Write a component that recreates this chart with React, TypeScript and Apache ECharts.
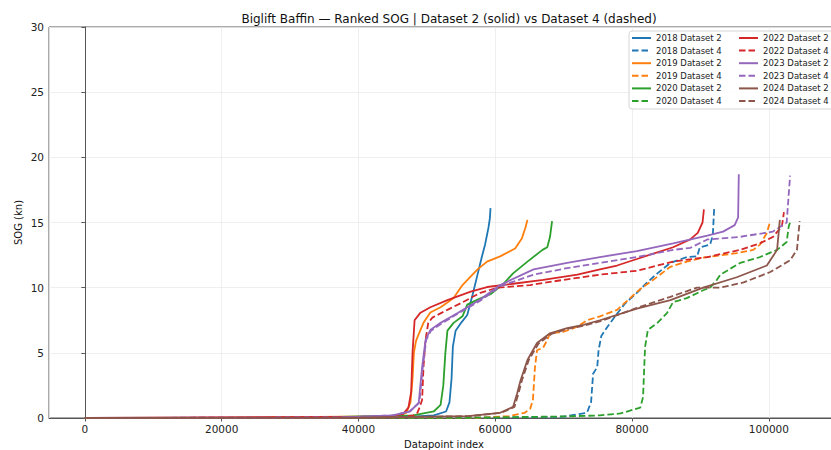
import React, { useEffect, useRef } from "react";
import * as echarts from "echarts";

// Ranked SOG curves: [datapoint index, SOG (kn)]
const d2018_ds2: [number, number][] = [
  [0, 0], [46000, 0.05], [51000, 0.2], [52800, 0.5], [53300, 1.2], [53600, 3], [53800, 5.5],
  [54200, 6.7], [55000, 7.3], [55900, 7.9], [56700, 9.5], [57400, 11], [58000, 12.3],
  [58500, 13.3], [59000, 14.6], [59200, 15.3], [59300, 16.1],
];
const d2018_ds4: [number, number][] = [
  [0, 0], [57000, 0.02], [70000, 0.1], [73400, 0.4], [74000, 1.2], [74300, 3.4], [74900, 3.9],
  [75100, 5.2], [75500, 6.3], [76400, 7.0], [77800, 8.0], [79000, 8.8], [80700, 9.6],
  [82200, 10.4], [83700, 11.1], [85600, 11.9], [88000, 12.35], [89500, 12.4], [89900, 13.1],
  [91400, 13.3], [91800, 14.0], [92000, 16.1],
];
const d2019_ds2: [number, number][] = [
  [0, 0], [26500, 0], [27000, 0.05], [45000, 0.15], [47000, 0.4], [47600, 1.2], [47900, 3],
  [48100, 5], [48400, 5.9], [48700, 6.3], [49500, 7.3], [50500, 8.1], [52000, 8.5],
  [53100, 8.9], [53900, 9.2], [55200, 10.2], [57400, 11.4], [58800, 12], [60700, 12.4],
  [62900, 13.0], [63900, 13.8], [64400, 14.6], [64700, 15.2],
];
const d2019_ds4: [number, number][] = [
  [0, 0], [58000, 0.02], [62000, 0.15], [64300, 0.4], [65100, 0.7], [65500, 1.4], [65800, 3.9],
  [66100, 5.2], [67000, 5.4], [67600, 6.0], [68000, 6.5], [69900, 6.6], [72000, 7.0],
  [73400, 7.5], [75300, 7.8], [77800, 8.3], [79300, 9.0], [81200, 9.9], [83100, 10.6],
  [85600, 11.6], [88000, 12.0], [90400, 12.3], [95300, 12.65], [97700, 12.9], [98700, 13.3],
  [99700, 14.2], [100200, 15.1],
];
const d2020_ds2: [number, number][] = [
  [0, 0], [33000, 0], [33500, 0.05], [48000, 0.2], [51000, 0.5], [52000, 1], [52400, 2.5],
  [52700, 5], [53000, 6.7], [53900, 7.3], [55200, 7.8], [55900, 8.7], [57500, 9.1],
  [59300, 9.5], [61200, 10.3], [62600, 11.1], [64700, 12.0], [66900, 12.9], [67600, 13.1],
  [68000, 13.9], [68300, 15.1],
];
const d2020_ds4: [number, number][] = [
  [0, 0], [56000, 0.02], [70000, 0.12], [75300, 0.2], [78300, 0.35], [81200, 0.8],
  [81600, 1.6], [81800, 4.2], [81900, 5.45], [82300, 6.75], [83700, 7.3], [85100, 8.05],
  [86000, 8.9], [88000, 9.2], [90400, 9.8], [91400, 10.0], [92400, 10.6], [92900, 11.0],
  [95800, 11.9], [98700, 12.35], [101200, 12.9], [102600, 13.5], [102900, 14.7], [103100, 15.0],
];
const d2022_ds2: [number, number][] = [
  [0, 0], [44000, 0.1], [46500, 0.3], [47300, 0.8], [47700, 2], [47900, 5], [48200, 7.5],
  [49000, 8.05], [50500, 8.5], [53000, 9.05], [56400, 9.7], [58800, 10.05], [62600, 10.3],
  [67000, 10.6], [72000, 11.0], [75300, 11.4], [77800, 11.7], [80700, 12.2], [83000, 12.6],
  [86000, 13.1], [88500, 13.7], [89600, 14.2], [90300, 15.0], [90500, 16.0],
];
const d2022_ds4: [number, number][] = [
  [0, 0], [46000, 0.05], [48000, 0.2], [48600, 0.4], [49000, 0.9], [49300, 1.4], [49500, 3.9],
  [49800, 6.0], [50200, 7.3], [50800, 7.7], [53000, 8.3], [55300, 8.9], [57800, 9.6],
  [60300, 10.0], [65100, 10.2], [70000, 10.6], [75300, 11.0], [80700, 11.3], [86000, 12.0],
  [91000, 12.35], [95800, 12.9], [98700, 13.4], [100600, 13.9], [101900, 14.7], [102200, 15.8],
];
const d2023_ds2: [number, number][] = [
  [0, 0], [37000, 0], [37500, 0.05], [45000, 0.2], [47500, 0.5], [48800, 1.15], [49300, 3.9],
  [49800, 6.0], [50500, 6.75], [52000, 7.3], [54500, 8.05], [57800, 9.1], [60700, 10.2],
  [65600, 11.4], [70500, 11.9], [75300, 12.35], [80700, 12.8], [86000, 13.4], [91000, 14.0],
  [93300, 14.3], [95000, 14.8], [95500, 15.4], [95600, 18.7],
];
const d2023_ds4: [number, number][] = [
  [0, 0], [38000, 0.05], [45000, 0.2], [47500, 0.5], [48900, 1.2], [49400, 3.9], [49900, 6.0],
  [50600, 6.7], [52000, 7.2], [54500, 8.0], [57800, 9.0], [60700, 10.1], [65600, 11.0],
  [70500, 11.5], [75300, 11.9], [80700, 12.35], [86000, 12.9], [88500, 13.05], [91000, 13.7],
  [95800, 13.9], [100600, 14.3], [102600, 15.0], [103100, 18.6],
];
const d2024_ds2: [number, number][] = [
  [0, 0], [40000, 0.02], [56000, 0.15], [60700, 0.4], [62600, 0.85], [63200, 1.9], [63700, 2.9],
  [64700, 4.45], [66100, 5.75], [68000, 6.5], [70500, 6.9], [72900, 7.15], [75300, 7.5],
  [80700, 8.4], [85600, 9.05], [90400, 10.0], [95300, 10.8], [99700, 11.7], [101200, 12.9],
  [101600, 15.2],
];
const d2024_ds4: [number, number][] = [
  [0, 0], [40000, 0.02], [56500, 0.15], [60900, 0.4], [62800, 0.85], [63400, 1.9], [63900, 2.9],
  [64900, 4.45], [66300, 5.7], [68200, 6.45], [70700, 6.85], [73100, 7.1], [75500, 7.45],
  [80700, 8.45], [85600, 9.3], [89500, 10.0], [92900, 10.0], [96300, 10.4], [100200, 11.2],
  [103100, 12.1], [104100, 12.9], [104500, 15.1],
];

const years = ["2018", "2019", "2020", "2022", "2023", "2024"];
const ds2Data = [d2018_ds2, d2019_ds2, d2020_ds2, d2022_ds2, d2023_ds2, d2024_ds2];
const ds4Data = [d2018_ds4, d2019_ds4, d2020_ds4, d2022_ds4, d2023_ds4, d2024_ds4];
const palette = ["#1f77b4", "#ff7f0e", "#2ca02c", "#d62728", "#9467bd", "#8c564b"];

const titleText = "Biglift Baffin — Ranked SOG | Dataset 2 (solid) vs Dataset 4 (dashed)";
const FONT = "DejaVu Sans";

export default function App() {
  const ref = useRef<HTMLDivElement>(null);
  useEffect(() => {
    if (!ref.current) return;
    const chart = echarts.init(ref.current, undefined, { renderer: "svg" });
    const series: any[] = [];
    const names: string[] = [];
    years.forEach((y, i) => {
      const n2 = `${y} Dataset 2`;
      const n4 = `${y} Dataset 4`;
      names.push(n2, n4);
      series.push({
        name: n2, type: "line", data: ds2Data[i], showSymbol: false, symbol: "none",
        color: palette[i], lineStyle: { color: palette[i], width: 1.8, type: "solid" }, z: 2,
      });
      series.push({
        name: n4, type: "line", data: ds4Data[i], showSymbol: false, symbol: "none",
        color: palette[i], lineStyle: { color: palette[i], width: 1.8, type: [6.5, 3] }, z: 2,
      });
    });
    const legendCommon = {
      orient: "vertical", top: 33.5, itemWidth: 19, itemHeight: 9, itemGap: 3.6, padding: 0,
      textStyle: { fontSize: 8.5, fontFamily: FONT, color: "#222" }, itemStyle: { opacity: 0 },
      z: 6,
    };
    chart.setOption({
      animation: false,
      backgroundColor: "#fff",
      title: {
        text: titleText, left: 444, top: 8, textAlign: "center",
        textStyle: { fontSize: 12, fontWeight: "normal", fontFamily: FONT, color: "#111" },
      },
      legend: [
        { ...legendCommon, left: 631, data: names.slice(0, 6) },
        { ...legendCommon, left: 738, data: names.slice(6) },
      ],
      graphic: [
        {
          type: "rect", z: 5, shape: { x: 629, y: 31, width: 210, height: 78, r: 3 },
          style: { fill: "rgba(255,255,255,0.85)", stroke: "#d6d6d6", lineWidth: 1 },
        },
      ],
      grid: {
        left: 49, top: 27, bottom: 32, right: -8, show: true, borderColor: "#555",
        borderWidth: 1, outerBoundsMode: "none", containLabel: false,
      },
      xAxis: {
        type: "value", min: -5250, max: 110250, minInterval: 20000, maxInterval: 20000,
        name: "Datapoint index", nameLocation: "middle", nameGap: 21, nameMoveOverlap: false,
        nameTextStyle: { fontSize: 10, fontFamily: FONT, color: "#111" },
        axisLine: { show: true, lineStyle: { color: "#555" } },
        axisTick: { show: true, length: 3.5, lineStyle: { color: "#555" } },
        axisLabel: {
          fontSize: 10.5, fontFamily: FONT, color: "#222", margin: 5,
          showMinLabel: false, showMaxLabel: false,
          formatter: (v: number) => String(Math.round(v)),
        },
        splitLine: { show: true, lineStyle: { color: "#ebebeb", width: 0.8 } },
      },
      yAxis: {
        type: "value", min: 0, max: 30, interval: 5,
        name: "SOG (kn)", nameLocation: "middle", nameGap: 26, nameMoveOverlap: false,
        nameTextStyle: { fontSize: 10, fontFamily: FONT, color: "#111" },
        axisLine: { show: true, lineStyle: { color: "#555" } },
        axisTick: { show: true, length: 3.5, lineStyle: { color: "#555" } },
        axisLabel: { fontSize: 10.5, fontFamily: FONT, color: "#222", margin: 5 },
        splitLine: { show: true, lineStyle: { color: "#ebebeb", width: 0.8 } },
      },
      series,
    });
    return () => chart.dispose();
  }, []);
  return <div ref={ref} style={{ width: 831, height: 450, position: "absolute", left: 0, top: 0 }} />;
}
